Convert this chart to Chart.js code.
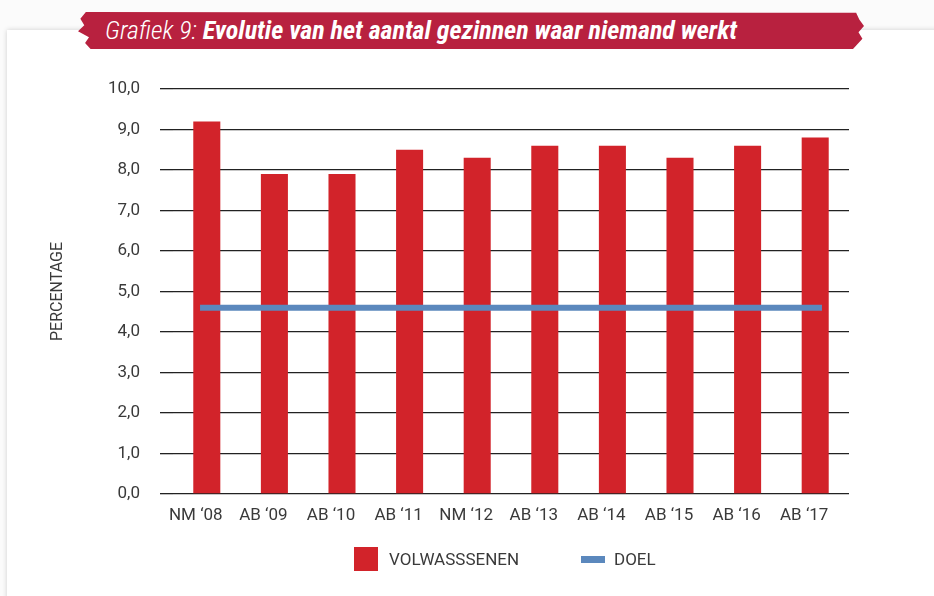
<!DOCTYPE html>
<html>
<head>
<meta charset="utf-8">
<script src="https://cdn.jsdelivr.net/npm/chart.js@4.4.0/dist/chart.umd.min.js"></script>
<style>
  html, body { margin: 0; padding: 0; background: #fbfbfb; }
  #wrap { position: relative; width: 934px; height: 596px; overflow: hidden; }
  #card { position: absolute; left: 7px; top: 30px; width: 940px; height: 600px; background: #fff;
          box-shadow: 0 0 5px rgba(0,0,0,0.18); }
  #ribbon { position: absolute; left: 78px; top: 12px; width: 786px; height: 37px; background: #b8213f;
            filter: drop-shadow(0 0 3px rgba(0,0,0,0.35));
            clip-path: polygon(1% 0%, 99% 2%, 99.4% 20%, 100% 38%, 99.3% 55%, 99.8% 72%, 98.6% 100%,
                               1.6% 100%, 0.9% 84%, 1.4% 68%, 0% 52%, 0.8% 36%, 0.3% 18%); }
  #title { position: absolute; left: 105px; top: 15px; color: #fff; font-size: 26px; font-style: italic;
           font-family: "Liberation Sans Narrow", "Roboto Condensed", "Liberation Sans", sans-serif;
           white-space: nowrap; }
  #title .lt { font-weight: 300; }
  #title b { font-weight: 700; }
  #chart { position: absolute; left: 0; top: 0; }
  .leg { position: absolute; top: 547px; font-family: Roboto, "Liberation Sans", sans-serif; font-size: 17px;
         color: #3a3a3a; line-height: 24px; }
  .leg span.sw { position: absolute; left: 0; }
</style>
</head>
<body>
<div id="wrap">
  <div id="card"></div>
  <div id="ribbon"></div>
  <div id="title"><span class="lt">Grafiek 9:</span> <b>Evolutie van het aantal gezinnen waar niemand werkt</b></div>
  <canvas id="chart" width="934" height="596"></canvas>
  <div class="leg" style="left:354px;"><span class="sw" style="top:0;width:24px;height:24px;background:#d2232a;"></span><span style="padding-left:35px;">VOLWASSSENEN</span></div>
  <div class="leg" style="left:581px;"><span class="sw" style="top:9px;width:24px;height:7px;background:#5b88bd;"></span><span style="padding-left:33px;">DOEL</span></div>
</div>
<script>
const categories = ['NM \u201808', 'AB \u201809', 'AB \u201810', 'AB \u201811', 'NM \u201812', 'AB \u201813', 'AB \u201814', 'AB \u201815', 'AB \u201816', 'AB \u201817'];
const volwassenen = [9.2, 7.9, 7.9, 8.5, 8.3, 8.6, 8.6, 8.3, 8.6, 8.8];
const doelValue = 4.6;
// the target line runs a little past the first and last bar centres
const doelStart = -0.1;
const doelEnd = 9.1;

const fontFam = 'Roboto, "Liberation Sans", sans-serif';

new Chart(document.getElementById('chart'), {
  data: {
    labels: categories,
    datasets: [
      {
        type: 'line',
        label: 'DOEL',
        data: [{ x: doelStart, y: doelValue }, { x: doelEnd, y: doelValue }],
        xAxisID: 'x2',
        borderColor: '#5b88bd',
        borderWidth: 6,
        pointRadius: 0,
        borderCapStyle: 'butt',
        order: 1
      },
      {
        type: 'bar',
        label: 'VOLWASSSENEN',
        data: volwassenen,
        backgroundColor: '#d2232a',
        barPercentage: 0.4,
        categoryPercentage: 1,
        grouped: false,
        order: 2
      }
    ]
  },
  options: {
    responsive: false,
    animation: false,
    layout: { padding: { left: 0, right: 85, top: 89, bottom: 62 } },
    plugins: { legend: { display: false }, tooltip: { enabled: false } },
    scales: {
      x: {
        type: 'category',
        offset: true,
        grid: { display: false, drawTicks: false },
        border: { display: false },
        ticks: { color: '#3a3a3a', font: { family: fontFam, size: 17 }, padding: 12, labelOffset: -11, maxRotation: 0 },
        afterFit: s => { s.height = 40; }
      },
      x2: {
        type: 'linear',
        min: -0.5,
        max: 9.5,
        display: false
      },
      y: {
        min: 0,
        max: 10,
        ticks: {
          stepSize: 1,
          color: '#3a3a3a',
          font: { family: fontFam, size: 17 },
          padding: 20,
          callback: v => v.toFixed(1).replace('.', ',')
        },
        grid: { color: '#222', lineWidth: 1.3, tickLength: 13, drawTicks: true },
        border: { display: false },
        title: {
          display: true,
          text: 'PERCENTAGE',
          color: '#3a3a3a',
          font: { family: fontFam, size: 16 },
          padding: { top: 48, bottom: 0 }
        },
        afterFit: s => { s.width = 173; }
      }
    }
  }
});
</script>
</body>
</html>
